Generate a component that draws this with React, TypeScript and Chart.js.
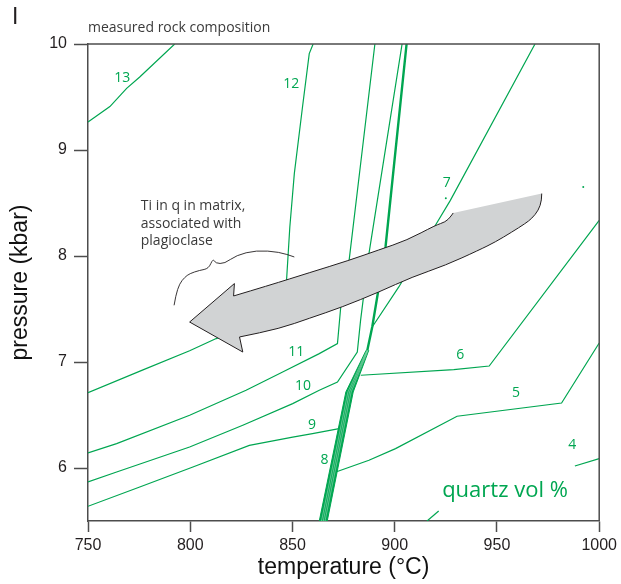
import React, { useEffect, useRef } from 'react';
import { Chart, registerables } from 'chart.js';

Chart.register(...registerables);

const GREEN = '#00a651';
const AXIS = '#4d4d4d';
const INK = '#231f20';
const SANS = '"Liberation Sans", Arial, Helvetica, sans-serif';
const HUMAN = '"Open Sans", "Noto Sans", sans-serif';

const xTickValues = [750, 800, 850, 900, 950, 1000];
const yTickValues = [6, 7, 8, 9, 10];

// quartz vol % contours (temperature °C, pressure kbar)
const iso13T = [750, 760.7, 768.9, 775.3, 792.4];
const iso13P = [9.264, 9.41, 9.582, 9.689, 10];
const iso12T = [750, 776.9, 799.7, 812.7, 846.9, 847.1, 848.7, 850.9, 854.9, 858.2, 860.1];
const iso12P = [6.711, 6.926, 7.106, 7.221, 7.497, 7.771, 8.274, 8.777, 9.406, 9.909, 10];
const iso11T = [750, 764.0, 799.7, 827.3, 845.2, 863.1, 872.0, 873.6, 877.7, 884.7, 890.3];
const iso11P = [6.142, 6.23, 6.497, 6.733, 6.906, 7.079, 7.174, 7.519, 7.959, 9.092, 10];
const iso10T = [750, 764.0, 799.7, 825.7, 850.1, 863.1, 872.0, 881.7, 883.3, 887.4, 903.6];
const iso10P = [5.868, 5.962, 6.198, 6.403, 6.607, 6.733, 6.811, 7.094, 7.393, 8.023, 10];
const iso9T = [750, 775.3, 801.3, 828.9, 850.1, 859.8, 872.8];
const iso9P = [5.639, 5.821, 6.009, 6.214, 6.292, 6.325, 6.372];
const iso8T = [886.6, 889.0, 895.5, 905.8];
const iso8P = [7.11, 7.33, 8.085, 10];
const iso7T = [889.0, 902.0, 919.9, 927.2, 968.6];
const iso7P = [7.33, 7.708, 8.29, 8.525, 10];
const iso6T = [883.4, 928.9, 946.2, 1000];
const iso6P = [6.875, 6.928, 6.962, 8.337];
const iso5T = [871.2, 887.4, 900.4, 930.5, 981.6, 1000];
const iso5P = [5.962, 6.073, 6.183, 6.488, 6.613, 7.179];
const iso4T = [988.1, 1000];
const iso4P = [6.019, 6.089];
const iso3T = [915.8, 921.5];
const iso3P = [5.5, 5.594];

// hatched band (field boundary)
const bandLeftT = [863.1, 876.1, 886.0];
const bandLeftP = [5.5, 6.717, 7.11];
const bandRightT = [867.0, 879.7, 887.3];
const bandRightP = [5.5, 6.717, 7.11];

// grey P-T path arrow outline: head, upper edge, tail, lower edge
const arrowHeadT = [825.7, 799.7, 821.6];
const arrowHeadP = [7.094, 7.377, 7.74];
const arrowUpperT = [821.2, 838.7, 858.2, 877.7, 892.3, 905.9, 919.9, 924.8, 927.2, 928.6];
const arrowUpperP = [7.623, 7.724, 7.842, 7.959, 8.058, 8.148, 8.29, 8.321, 8.368, 8.406];
const arrowTailT = [971.9, 971.9, 970.3, 967.0, 963.8, 957.3, 949.2, 941.0, 924.8, 908.5, 892.3, 874.4, 858.2, 843.6, 824.1];
const arrowTailP = [8.589, 8.525, 8.431, 8.353, 8.306, 8.226, 8.132, 8.054, 7.912, 7.802, 7.66, 7.519, 7.412, 7.315, 7.236];

// annotation leader squiggle
const squigT = [792.1, 792.9, 794.8, 797.3, 799.7, 804.6, 809.0, 811.1, 812.4, 816.8, 822.5, 832.2, 843.6, 850.9];
const squigP = [7.535, 7.629, 7.74, 7.799, 7.834, 7.865, 7.881, 7.975, 7.931, 7.928, 8.007, 8.054, 8.038, 7.991];

// contour labels
const isoLabelText = ['13', '12', '11', '10', '9', '8', '7', '6', '5', '4'];
const isoLabelT = [766.8, 849.4, 851.9, 855.1, 859.6, 865.7, 925.4, 932.1, 959.3, 986.8];
const isoLabelP = [9.643, 9.582, 7.054, 6.733, 6.365, 6.038, 8.651, 7.03, 6.667, 6.181];

const noteLines = ['Ti in q in matrix,', 'associated with', 'plagioclase'];
const noteT = 775.8;
const noteP = [8.431, 8.264, 8.101];

const quartzLabel = 'quartz vol %';
const quartzT = 923.2;
const quartzP = 5.726;

const dotT = [925.0, 992.2];
const dotP = [8.544, 8.651];

const contours: [number[], number[]][] = [
  [iso13T, iso13P], [iso12T, iso12P], [iso11T, iso11P], [iso10T, iso10P], [iso9T, iso9P],
  [iso7T, iso7P], [iso6T, iso6P], [iso5T, iso5P], [iso4T, iso4P], [iso3T, iso3P],
];

type Pt = [number, number];

// assumes the current point is pts[0]
function smoothThrough(ctx: CanvasRenderingContext2D, pts: Pt[]) {
  for (let i = 1; i < pts.length - 1; i++) {
    const mx = (pts[i][0] + pts[i + 1][0]) / 2;
    const my = (pts[i][1] + pts[i + 1][1]) / 2;
    ctx.quadraticCurveTo(pts[i][0], pts[i][1], mx, my);
  }
  const last = pts[pts.length - 1];
  ctx.lineTo(last[0], last[1]);
}

export default function App() {
  const ref = useRef<HTMLCanvasElement>(null);

  useEffect(() => {
    const canvas = ref.current;
    if (!canvas) return;

    const overlay = {
      id: 'overlay',
      afterDatasetsDraw(chart: any) {
        const { ctx, chartArea: a, scales } = chart;
        const X = (t: number) => scales.x.getPixelForValue(t);
        const Y = (p: number) => scales.y.getPixelForValue(p);
        const toPts = (T: number[], P: number[]): Pt[] => T.map((t, i) => [X(t), Y(P[i])]);

        ctx.save();
        ctx.beginPath();
        ctx.rect(a.left, a.top, a.right - a.left, a.bottom - a.top);
        ctx.clip();

        // band
        ctx.beginPath();
        bandLeftT.forEach((t, i) => (i ? ctx.lineTo(X(t), Y(bandLeftP[i])) : ctx.moveTo(X(t), Y(bandLeftP[i]))));
        for (let i = bandRightT.length - 1; i >= 0; i--) ctx.lineTo(X(bandRightT[i]), Y(bandRightP[i]));
        ctx.closePath();
        ctx.fillStyle = GREEN;
        ctx.fill();
        ctx.strokeStyle = GREEN;
        ctx.lineWidth = 1;
        ctx.stroke();
        ctx.strokeStyle = 'rgba(255,255,255,0.6)';
        ctx.lineWidth = 0.6;
        for (const f of [0.28, 0.5, 0.72]) {
          ctx.beginPath();
          bandLeftT.forEach((t, i) => {
            const tt = t + (bandRightT[i] - t) * f;
            const pp = bandLeftP[i] + (bandRightP[i] - bandLeftP[i]) * f;
            if (i) ctx.lineTo(X(tt), Y(pp)); else ctx.moveTo(X(tt), Y(pp));
          });
          ctx.stroke();
        }

        // arrow
        const head = toPts(arrowHeadT, arrowHeadP);
        const upper = toPts(arrowUpperT, arrowUpperP);
        const tail = toPts(arrowTailT, arrowTailP);
        const traceHeadAndUpper = () => {
          ctx.lineTo(head[0][0], head[0][1]);
          ctx.lineTo(head[1][0], head[1][1]);
          ctx.lineTo(head[2][0], head[2][1]);
          ctx.lineTo(upper[0][0], upper[0][1]);
          smoothThrough(ctx, upper);
        };
        ctx.beginPath();
        ctx.moveTo(tail[0][0], tail[0][1]);
        smoothThrough(ctx, tail);
        traceHeadAndUpper();
        ctx.closePath();
        ctx.fillStyle = '#d1d3d4';
        ctx.fill();
        ctx.strokeStyle = INK;
        ctx.lineWidth = 1;
        ctx.lineJoin = 'miter';
        ctx.beginPath();
        ctx.moveTo(tail[0][0], tail[0][1]);
        smoothThrough(ctx, tail);
        traceHeadAndUpper();
        ctx.stroke();

        // squiggle leader
        const sq = toPts(squigT, squigP);
        ctx.beginPath();
        ctx.moveTo(sq[0][0], sq[0][1]);
        smoothThrough(ctx, sq);
        ctx.strokeStyle = INK;
        ctx.lineWidth = 0.9;
        ctx.stroke();

        ctx.restore();

        // frame top and right
        ctx.save();
        ctx.strokeStyle = AXIS;
        ctx.lineWidth = 1.5;
        ctx.beginPath();
        ctx.moveTo(a.left, a.top);
        ctx.lineTo(a.right, a.top);
        ctx.lineTo(a.right, a.bottom);
        ctx.stroke();
        ctx.restore();

        // texts
        ctx.save();
        ctx.textBaseline = 'alphabetic';
        ctx.fillStyle = GREEN;
        ctx.textAlign = 'center';
        ctx.font = `14px ${HUMAN}`;
        isoLabelText.forEach((s, i) => ctx.fillText(s, X(isoLabelT[i]), Y(isoLabelP[i])));
        ctx.textAlign = 'left';
        ctx.font = `22px ${HUMAN}`;
        ctx.fillText(quartzLabel, X(quartzT), Y(quartzP));

        ctx.fillStyle = '#3a3a3a';
        ctx.font = `14px ${HUMAN}`;
        noteLines.forEach((s, i) => ctx.fillText(s, X(noteT), Y(noteP[i])));
        ctx.fillText('measured rock composition', a.left, a.top - 12);

        ctx.fillStyle = INK;
        ctx.font = `23px ${SANS}`;
        ctx.fillText('I', 12, 24);
        ctx.restore();
      },
    };

    const datasets: any[] = contours.map(([T, P]) => ({
      data: T.map((t, i) => ({ x: t, y: P[i] })),
      showLine: true,
      borderColor: GREEN,
      borderWidth: 1.2,
      pointRadius: 0,
      tension: 0,
    }));
    datasets.push({
      data: iso8T.map((t, i) => ({ x: t, y: iso8P[i] })),
      showLine: true,
      borderColor: GREEN,
      borderWidth: 2.4,
      pointRadius: 0,
      tension: 0,
    });
    datasets.push({
      data: dotT.map((t, i) => ({ x: t, y: dotP[i] })),
      showLine: false,
      pointRadius: 1,
      pointBorderWidth: 0,
      backgroundColor: GREEN,
    });

    const tickFont = { family: SANS, size: 16 };
    const titleFont = { family: SANS, size: 23 };

    const chart = new Chart(canvas, {
      type: 'scatter',
      data: { datasets },
      options: {
        animation: false,
        responsive: false,
        devicePixelRatio: 1,
        layout: { padding: { top: 44, right: 20, bottom: 0, left: 0 } },
        plugins: { legend: { display: false }, tooltip: { enabled: false } },
        scales: {
          x: {
            type: 'linear',
            min: 750,
            max: 1000,
            afterBuildTicks: (s: any) => { s.ticks = xTickValues.map((v) => ({ value: v })); },
            afterFit: (s: any) => { s.height = 63; },
            ticks: { font: tickFont, color: INK, padding: 4, callback: (v: any) => String(v) },
            grid: { display: true, drawOnChartArea: false, drawTicks: true, tickLength: 11, tickWidth: 1.5, tickColor: AXIS },
            border: { display: true, color: AXIS, width: 1.5 },
            title: { display: true, text: 'temperature (°C)', font: titleFont, color: '#111', padding: { top: 0, bottom: 3 } },
          },
          y: {
            type: 'linear',
            min: 5.5,
            max: 10,
            afterBuildTicks: (s: any) => { s.ticks = yTickValues.map((v) => ({ value: v })); },
            afterFit: (s: any) => { s.width = 88; },
            ticks: { font: tickFont, color: INK, padding: 7, callback: (v: any) => String(v) },
            grid: { display: true, drawOnChartArea: false, drawTicks: true, tickLength: 14, tickWidth: 1.5, tickColor: AXIS },
            border: { display: true, color: AXIS, width: 1.5 },
            title: { display: true, text: 'pressure (kbar)', font: titleFont, color: '#111', padding: { top: 7, bottom: 0 } },
          },
        },
      } as any,
      plugins: [overlay],
    });
    return () => chart.destroy();
  }, []);

  return (
    <div style={{ position: 'fixed', left: 0, top: 0, width: 621, height: 584, background: '#fff' }}>
      <canvas ref={ref} width={621} height={584} style={{ display: 'block' }} />
    </div>
  );
}
